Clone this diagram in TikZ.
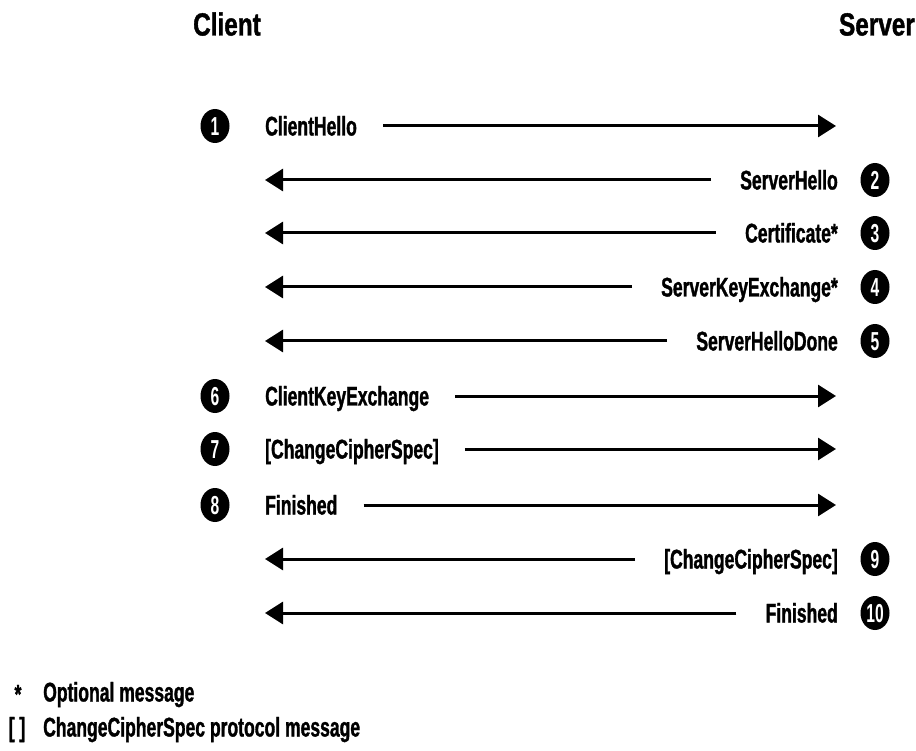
\documentclass[tikz,border=0pt]{standalone}
\usepackage{fontspec}
\setmainfont{Liberation Sans}[FakeStretch=0.65, BoldFeatures={FakeBold=1.2}]
\newfontfamily\titlefont{Liberation Sans}[FakeStretch=0.76, BoldFeatures={FakeBold=1.2}]
\newfontfamily\numfont{Liberation Sans}[FakeStretch=0.6]
\usetikzlibrary{arrows.meta,shapes.geometric}
\begin{document}
\begin{tikzpicture}[x=1pt,y=-1pt,
  title/.style={font=\titlefont\bfseries\fontsize{32}{32}\selectfont, inner sep=0pt, text height=23pt, text depth=0pt},
  lbl/.style={font=\bfseries\fontsize{27}{27}\selectfont, inner sep=0pt, text height=19pt, text depth=0pt},
  num/.style={ellipse, fill=black, text=white, minimum width=29pt, minimum height=34pt, inner sep=0pt,
    font=\numfont\bfseries\fontsize{26}{26}\selectfont, text height=18.6pt, text depth=0pt},
  msg/.style={line width=3pt, -{Triangle[length=18pt,width=22pt]}}]
\useasboundingbox (0,0) rectangle (916,751);
% titles
\node[title, anchor=west] (client) at (193,24) {Client};
\node[title, anchor=east] (server) at (915,24) {Server};
% client -> server messages
\node[num] (n1) at (215,126) {1};
\node[lbl, anchor=west] (m1) at (265,126) {ClientHello};
\coordinate (e1) at (836,126);
\draw[msg] ([xshift=26pt]m1.east) -- (e1);

\node[num] (n6) at (215,396) {6};
\node[lbl, anchor=west] (m6) at (265,396) {ClientKeyExchange};
\coordinate (e6) at (836,396);
\draw[msg] ([xshift=26pt]m6.east) -- (e6);

\node[num] (n7) at (215,449) {7};
\node[lbl, anchor=west] (m7) at (265,449) {[ChangeCipherSpec]};
\coordinate (e7) at (836,449);
\draw[msg] ([xshift=26pt]m7.east) -- (e7);

\node[num] (n8) at (215,505) {8};
\node[lbl, anchor=west] (m8) at (265,505) {Finished};
\coordinate (e8) at (836,505);
\draw[msg] ([xshift=26pt]m8.east) -- (e8);

% server -> client messages
\node[num] (n2) at (875,180) {2};
\node[lbl, anchor=east] (m2) at (838,180) {ServerHello};
\coordinate (e2) at (265,180);
\draw[msg] ([xshift=-29pt]m2.west) -- (e2);

\node[num] (n3) at (875,233) {3};
\node[lbl, anchor=east] (m3) at (838,233) {Certificate*};
\coordinate (e3) at (265,233);
\draw[msg] ([xshift=-29pt]m3.west) -- (e3);

\node[num] (n4) at (875,287) {4};
\node[lbl, anchor=east] (m4) at (838,287) {ServerKeyExchange*};
\coordinate (e4) at (265,287);
\draw[msg] ([xshift=-29pt]m4.west) -- (e4);

\node[num] (n5) at (875,341) {5};
\node[lbl, anchor=east] (m5) at (838,341) {ServerHelloDone};
\coordinate (e5) at (265,341);
\draw[msg] ([xshift=-29pt]m5.west) -- (e5);

\node[num] (n9) at (875,559) {9};
\node[lbl, anchor=east] (m9) at (838,559) {[ChangeCipherSpec]};
\coordinate (e9) at (265,559);
\draw[msg] ([xshift=-29pt]m9.west) -- (e9);

\node[num] (n10) at (875,613) {10};
\node[lbl, anchor=east] (m10) at (838,613) {Finished};
\coordinate (e10) at (265,613);
\draw[msg] ([xshift=-29pt]m10.west) -- (e10);

% legend
\node[lbl] (k1) at (18,694) {*};
\node[lbl, anchor=west] (l1) at (43,692) {Optional message};
\node[lbl] (k2) at (17,727) {[ ]};
\node[lbl, anchor=west] (l2) at (43,727) {ChangeCipherSpec protocol message};
\end{tikzpicture}
\end{document}
